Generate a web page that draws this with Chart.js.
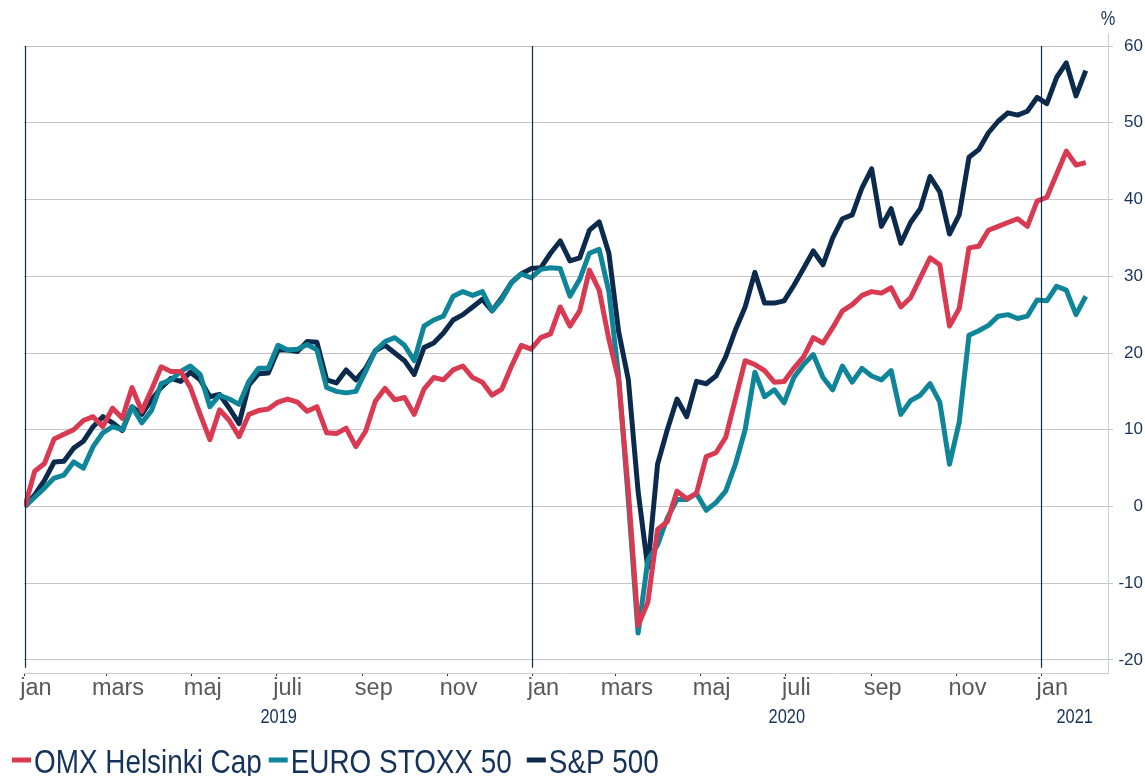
<!DOCTYPE html>
<html>
<head>
<meta charset="utf-8">
<script src="https://cdn.jsdelivr.net/npm/chart.js@4.4.1/dist/chart.umd.min.js"></script>
<style>
  html, body { margin: 0; padding: 0; background: #ffffff; }
</style>
</head>
<body>
<canvas id="chart" width="1145" height="776"></canvas>
<script>
// ==================== Data ====================
// Weekly observations starting 2019-01-01, % change since start
const startDate = '2019-01-01';
const stepDays = 7;

const omxHelsinkiCap = [
    0, 4.6, 5.6, 8.8, 9.4, 10.0, 11.2, 11.7, 10.4, 12.8,
    11.5, 15.5, 12.4, 15.2, 18.2, 17.6, 17.6, 15.5, 12.0, 8.7,
    12.6, 11.2, 9.1, 12.0, 12.5, 12.7, 13.6, 14.0, 13.6, 12.4,
    13.0, 9.6, 9.5, 10.2, 7.8, 9.8, 13.7, 15.4, 13.9, 14.2,
    12.0, 15.3, 16.8, 16.5, 17.8, 18.3, 16.8, 16.2, 14.5, 15.3,
    18.3, 21.0, 20.5, 22.0, 22.5, 26.0, 23.5, 25.5, 30.8, 28.2,
    21.8, 16.5, 2.0, -15.5, -12.5, -3.0, -2.0, 2.0, 1.0, 1.7,
    6.5, 7.0, 9.0, 14.0, 19.0, 18.5, 17.7, 16.2, 16.3, 18.0,
    19.5, 22.0, 21.3, 23.3, 25.5, 26.3, 27.5, 28.0, 27.8, 28.5,
    26.0, 27.2, 29.8, 32.4, 31.5, 23.5, 25.8, 33.7, 33.9, 36.0,
    36.5, 37.0, 37.5, 36.5, 39.8, 40.3, 43.3, 46.3, 44.5, 44.8
];

const euroStoxx50 = [
    0, 1.2, 2.4, 3.7, 4.1, 5.8, 5.0, 7.8, 9.6, 10.4,
    10.0, 13.0, 10.9, 12.5, 16.0, 16.5, 17.6, 18.3, 17.2, 13.0,
    14.5, 14.0, 13.3, 16.3, 18.0, 18.0, 21.0, 20.4, 20.5, 21.1,
    20.4, 15.5, 15.0, 14.8, 15.0, 17.6, 20.3, 21.5, 22.0, 21.0,
    19.0, 23.5, 24.3, 24.8, 27.4, 28.0, 27.5, 28.0, 25.5, 27.0,
    29.2, 30.3, 29.8, 30.9, 31.1, 31.0, 27.4, 29.6, 33.0, 33.5,
    28.0, 17.0, 0.8, -16.5, -7.0, -5.0, -1.5, 0.9, 0.9, 1.7,
    -0.5, 0.5, 2.0, 5.5, 10.0, 17.5, 14.3, 15.2, 13.5, 16.8,
    18.5, 19.8, 16.8, 15.2, 18.3, 16.2, 18.0, 17.0, 16.5, 17.7,
    12.0, 13.8, 14.5, 16.0, 13.6, 5.5, 11.0, 22.3, 22.9, 23.6,
    24.8, 25.0, 24.5, 24.8, 26.9, 26.8, 28.7, 28.2, 25.0, 27.4
];

const sp500 = [
    0, 1.5, 3.4, 5.8, 5.9, 7.6, 8.5, 10.4, 11.7, 10.9,
    9.9, 13.0, 12.0, 13.9, 15.5, 16.7, 16.3, 17.5, 16.5, 14.3,
    14.6, 12.8, 10.8, 15.8, 17.3, 17.4, 20.4, 20.4, 20.2, 21.5,
    21.4, 16.5, 16.1, 17.8, 16.5, 18.0, 20.3, 21.0, 20.0, 19.0,
    17.2, 20.7, 21.3, 22.6, 24.3, 25.0, 26.0, 27.0, 25.5, 27.2,
    29.2, 30.3, 31.0, 31.1, 33.0, 34.6, 32.0, 32.4, 36.0, 37.1,
    33.0, 22.8, 16.5, 2.0, -8.0, 5.5, 10.0, 14.0, 11.7, 16.3,
    16.0, 17.0, 19.5, 23.0, 26.0, 30.5, 26.5, 26.5, 26.8, 28.8,
    31.0, 33.3, 31.5, 35.0, 37.5, 38.0, 41.5, 44.0, 36.5, 38.8,
    34.3, 37.0, 38.8, 43.0, 41.0, 35.5, 38.0, 45.5, 46.5, 48.7,
    50.2, 51.3, 51.0, 51.5, 53.3, 52.5, 55.9, 57.8, 53.5, 56.8
];

const seriesNames = ['OMX Helsinki Cap', 'EURO STOXX 50', 'S&P 500'];
const seriesColors = ['#d93a52', '#0f8599', '#0b2a4c'];

// x axis: tick every second month, year dividers and year captions
const monthNames = ['jan', 'feb', 'mars', 'april', 'maj', 'juni', 'juli', 'aug', 'sep', 'okt', 'nov', 'dec'];
const monthTickDates = [
    '2019-01-01', '2019-03-01', '2019-05-01', '2019-07-01', '2019-09-01', '2019-11-01',
    '2020-01-01', '2020-03-01', '2020-05-01', '2020-07-01', '2020-09-01', '2020-11-01',
    '2021-01-01'
];
const yearStarts = ['2019-01-01', '2020-01-01', '2021-01-01'];
const yearLabels = ['2019', '2020', '2021'];
const yTicks = [-20, -10, 0, 10, 20, 30, 40, 50, 60];

// ==================== Helpers ====================
function dayOffset(dateStr) {
    return (Date.parse(dateStr) - Date.parse(startDate)) / 86400000;
}

const xMin = -0.7;
const xMax = 779;

// narrow font check (falls back to a squeezed Liberation Sans)
const probe = document.createElement('canvas').getContext('2d');
probe.font = '40px "Liberation Sans Narrow", "Liberation Sans"';
const wNarrow = probe.measureText('OMX Helsinki Cap').width;
probe.font = '40px "Liberation Sans"';
const wRegular = probe.measureText('OMX Helsinki Cap').width;
const hasNarrow = wNarrow < wRegular * 0.9;
const narrowFamily = hasNarrow ? '"Liberation Sans Narrow"' : '"Liberation Sans"';
const squeeze = hasNarrow ? 1 : 0.82;

function narrowText(ctx, text, x, y, size, align, color) {
    ctx.save();
    ctx.translate(x, y);
    ctx.scale(squeeze, 1);
    ctx.font = size + 'px ' + narrowFamily;
    ctx.fillStyle = color;
    ctx.textAlign = align;
    ctx.textBaseline = 'alphabetic';
    ctx.fillText(text, 0, 0);
    ctx.restore();
}

function narrowWidth(ctx, text, size) {
    ctx.save();
    ctx.font = size + 'px ' + narrowFamily;
    const w = ctx.measureText(text).width * squeeze;
    ctx.restore();
    return w;
}

function toPoints(values) {
    return values.map((v, i) => ({ x: i * stepDays, y: v }));
}

// ==================== Decorations ====================
const decorPlugin = {
    id: 'decor',
    afterDatasetsDraw(chart) {
        const ctx = chart.ctx;
        const xs = chart.scales.x;
        const ys = chart.scales.y;
        ctx.save();
        ctx.strokeStyle = '#0b2a4c';
        ctx.lineWidth = 1.2;
        yearStarts.forEach(d => {
            const px = Math.round(xs.getPixelForValue(dayOffset(d))) + 0.5;
            ctx.beginPath();
            ctx.moveTo(px, ys.getPixelForValue(60));
            ctx.lineTo(px, ys.getPixelForValue(-21));
            ctx.stroke();
        });
        ctx.restore();
    },
    afterDraw(chart) {
        const ctx = chart.ctx;
        const xs = chart.scales.x;
        const area = chart.chartArea;
        const navyText = '#15325a';

        // year captions, centred on the visible part of each year
        yearStarts.forEach((d, i) => {
            const a = dayOffset(d);
            const b = i + 1 < yearStarts.length ? dayOffset(yearStarts[i + 1]) : xMax;
            const cx = (xs.getPixelForValue(a) + xs.getPixelForValue(Math.min(b, xMax))) / 2;
            narrowText(ctx, yearLabels[i], cx, 723, 20, 'center', navyText);
        });

        // unit
        narrowText(ctx, '%', area.right, 25, 20, 'center', navyText);

        // legend
        let x = 12;
        const baseline = 773;
        const size = 34;
        const gaps = [7, 15, 0];
        seriesNames.forEach((name, i) => {
            ctx.save();
            ctx.strokeStyle = seriesColors[i];
            ctx.lineWidth = 5;
            ctx.beginPath();
            ctx.moveTo(x, baseline - 13);
            ctx.lineTo(x + 19, baseline - 13);
            ctx.stroke();
            ctx.restore();
            x += 22;
            narrowText(ctx, name, x, baseline, size, 'left', navyText);
            x += narrowWidth(ctx, name, size) + gaps[i];
        });
    }
};

// ==================== Chart ====================
const ctx = document.getElementById('chart').getContext('2d');

new Chart(ctx, {
    type: 'line',
    data: {
        datasets: [omxHelsinkiCap, euroStoxx50, sp500].map((values, i) => ({
            label: seriesNames[i],
            data: toPoints(values),
            borderColor: seriesColors[i],
            backgroundColor: seriesColors[i],
            borderWidth: 5,
            pointRadius: 0,
            tension: 0,
            borderJoinStyle: 'round',
            fill: false
        }))
    },
    options: {
        responsive: false,
        animation: false,
        layout: {
            padding: { left: 24, top: 33, right: 2, bottom: 0 }
        },
        plugins: {
            legend: { display: false },
            tooltip: { enabled: false }
        },
        scales: {
            x: {
                type: 'linear',
                min: xMin,
                max: xMax,
                afterBuildTicks: function (scale) {
                    scale.ticks = monthTickDates.map(d => ({ value: dayOffset(d) }));
                },
                afterFit: function (scale) {
                    scale.height = 103;
                },
                ticks: {
                    autoSkip: false,
                    maxRotation: 0,
                    labelOffset: 11,
                    padding: 1,
                    color: '#595959',
                    font: { family: '"Liberation Sans"', size: 23.5, lineHeight: 1 },
                    callback: function (value) {
                        const d = new Date(Date.parse(startDate) + value * 86400000);
                        return monthNames[d.getUTCMonth()];
                    }
                },
                grid: {
                    drawOnChartArea: false,
                    drawTicks: true,
                    tickLength: 3,
                    color: '#15325a'
                },
                border: { display: true, color: '#c8cdd5', width: 1 }
            },
            y: {
                position: 'right',
                min: -21.7,
                max: 61.7,
                afterBuildTicks: function (scale) {
                    scale.ticks = yTicks.map(v => ({ value: v }));
                },
                afterFit: function (scale) {
                    scale.width = 35;
                },
                ticks: {
                    padding: 6,
                    crossAlign: 'far',
                    color: '#15325a',
                    font: { family: narrowFamily, size: hasNarrow ? 20 : 17 }
                },
                grid: {
                    color: '#c6c6c6',
                    lineWidth: 1,
                    tickLength: 5
                },
                border: { display: true, color: '#c8cdd5', width: 1 }
            }
        }
    },
    plugins: [decorPlugin]
});
</script>
</body>
</html>
